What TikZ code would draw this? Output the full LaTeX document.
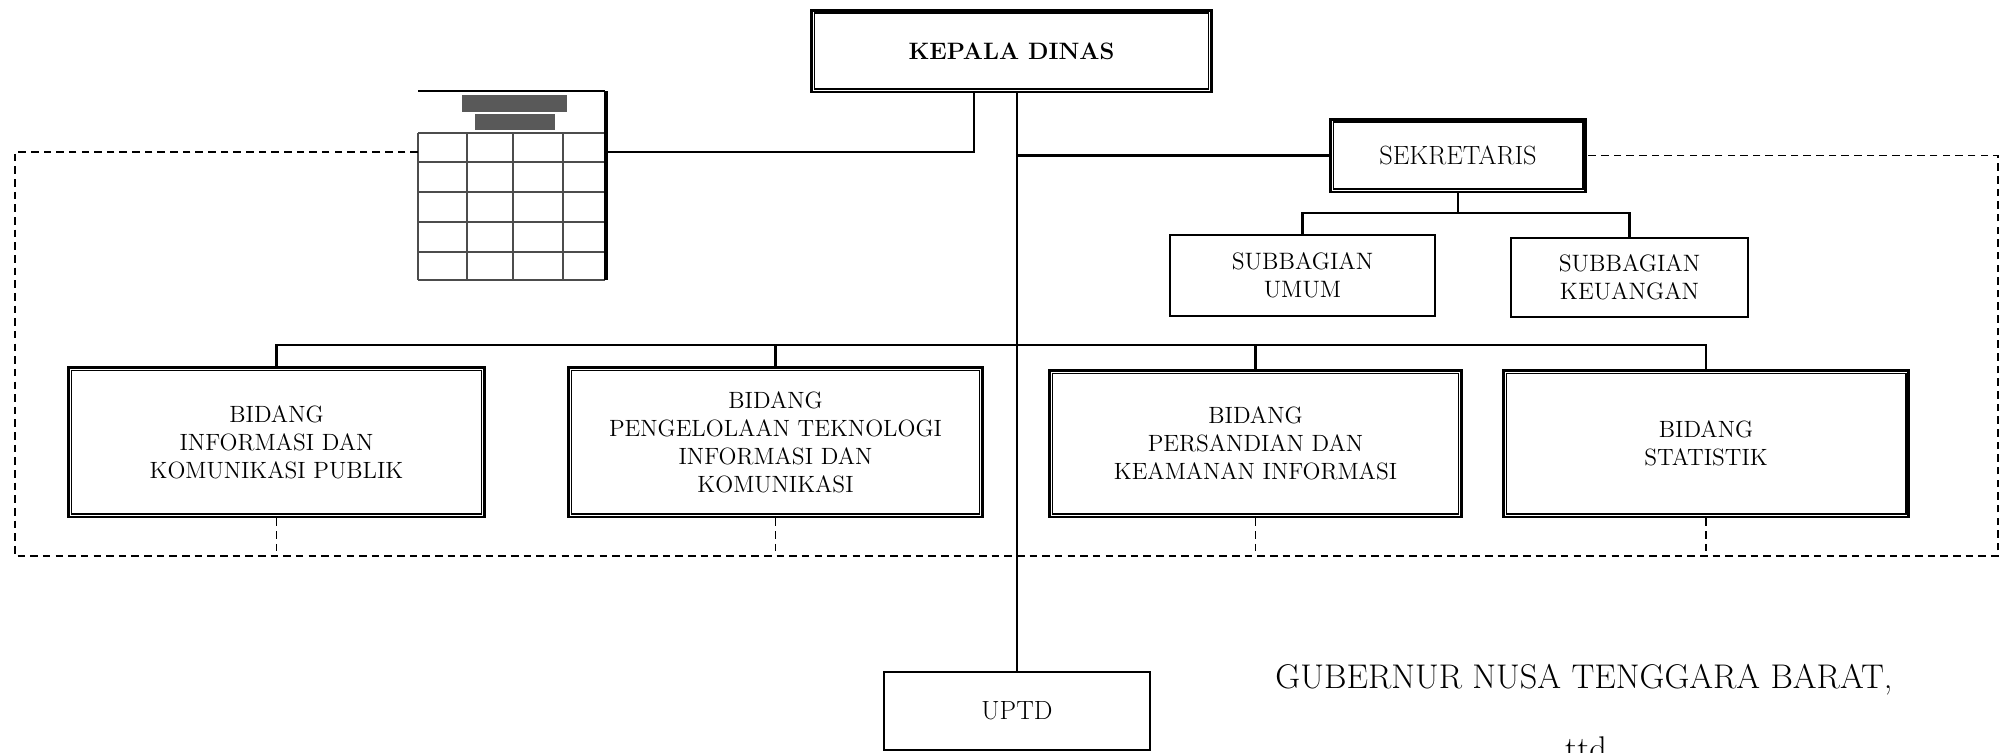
\documentclass[tikz,border=0pt]{standalone}
\usetikzlibrary{positioning}

\tikzset{
  conn/.style={line width=1.6pt},
  dashconn/.style={line width=0.8pt, dash pattern=on 4.3pt off 2.9pt},
  unit/.style={draw, line width=1.7pt, align=center, inner sep=2pt,
    font=\fontsize{13.4}{16}\selectfont},
  subunit/.style={draw, line width=0.9pt, align=center, inner sep=2pt,
    font=\fontsize{13.5}{16}\selectfont},
}

\begin{document}
\begin{tikzpicture}[x=0.02cm, y=-0.02cm]
  \useasboundingbox (0,0) rectangle (2005,752);

  % head and secretariat
  \node[unit, font=\fontsize{13.5}{16}\selectfont\bfseries,
    minimum width=8.02cm, minimum height=1.64cm] (kd) at (1011.5,51) {KEPALA DINAS};
  \node[unit, font=\fontsize{15}{16}\selectfont,
    minimum width=5.12cm, minimum height=1.46cm] (sek) at (1458,155.5) {SEKRETARIS};
  \node[subunit, minimum width=5.3cm, minimum height=1.62cm] (umum) at (1302.5,275.5) {SUBBAGIAN\\UMUM};
  \node[subunit, minimum width=4.74cm, minimum height=1.58cm] (keu) at (1629.5,277.5) {SUBBAGIAN\\KEUANGAN};

  % bidang
  \node[unit, minimum width=8.34cm, minimum height=3cm] (b1) at (276.5,442)
    {BIDANG\\INFORMASI DAN\\KOMUNIKASI PUBLIK};
  \node[unit, minimum width=8.3cm, minimum height=3cm] (b2) at (775.5,442)
    {BIDANG\\PENGELOLAAN TEKNOLOGI\\INFORMASI DAN\\KOMUNIKASI};
  \node[unit, minimum width=8.26cm, minimum height=2.94cm] (b3) at (1255.5,443.5)
    {BIDANG\\PERSANDIAN DAN\\KEAMANAN INFORMASI};
  \node[unit, minimum width=8.12cm, minimum height=2.94cm] (b4) at (1706,443.5)
    {BIDANG\\STATISTIK};

  \node[subunit, font=\fontsize{15}{16}\selectfont,
    minimum width=5.32cm, minimum height=1.56cm] (uptd) at (1017,711) {UPTD};

  % inner line of the double frames
  \foreach \n in {kd,sek,b1,b2,b3,b4}
    \draw[line width=0.6pt] ([shift={(0.09cm,-0.09cm)}]\n.north west) rectangle ([shift={(-0.09cm,0.09cm)}]\n.south east);

  % table picture
  \fill[black!65] (462,95) rectangle (567,112);
  \fill[black!65] (475,114) rectangle (555,130);
  \draw[line width=0.7pt] (418,91) -- (605,91);
  \foreach \r in {133,162,192,222,252,280}
    \draw[line width=1.2pt, black!70] (418,\r) -- (605,\r);
  \foreach \c in {418,467,513,563}
    \draw[line width=1.2pt, black!70] (\c,133) -- (\c,280);
  \draw[line width=2pt] (606,91) -- (606,280);
  \coordinate (tblE) at (607,152);
  \coordinate (tblW) at (418,152);

  % lines of command
  \draw[conn] ([xshift=-0.75cm]kd.south) |- (tblE);
  \draw[conn] (kd.south -| uptd.north) -- (uptd.north);
  \draw[conn] (uptd.north |- sek.west) -- (sek.west);
  \coordinate (sekbus) at (1460,213);
  \draw[conn] (sek.south) -- (sek.south |- sekbus);
  \draw[conn] (umum.north) |- (sek.south |- sekbus) -| (keu.north);
  \coordinate (bus) at (1017,345);
  \draw[conn] (b1.north) |- (bus) -| (b4.north);
  \draw[conn] (b2.north) -- (b2.north |- bus);
  \draw[conn] (b3.north) -- (b3.north |- bus);

  % lines of coordination
  \coordinate (fNW) at (15,152);
  \coordinate (fSE) at (1998,556);
  \draw[dashconn] (tblW) -- (fNW) -- (fNW |- fSE) -- (fSE) -- (fSE |- sek.east) -- (sek.east);
  \foreach \b in {b1,b2,b3,b4}
    \draw[dashconn] (\b.south) -- (\b.south |- fSE);

  % signature
  \node[font=\fontsize{19.5}{22}\selectfont] (gub) at (1584,680) {GUBERNUR NUSA TENGGARA BARAT,};
  \node[font=\fontsize{19.5}{22}\selectfont, anchor=north] (ttd) at (1586,730) {ttd};
\end{tikzpicture}
\end{document}
